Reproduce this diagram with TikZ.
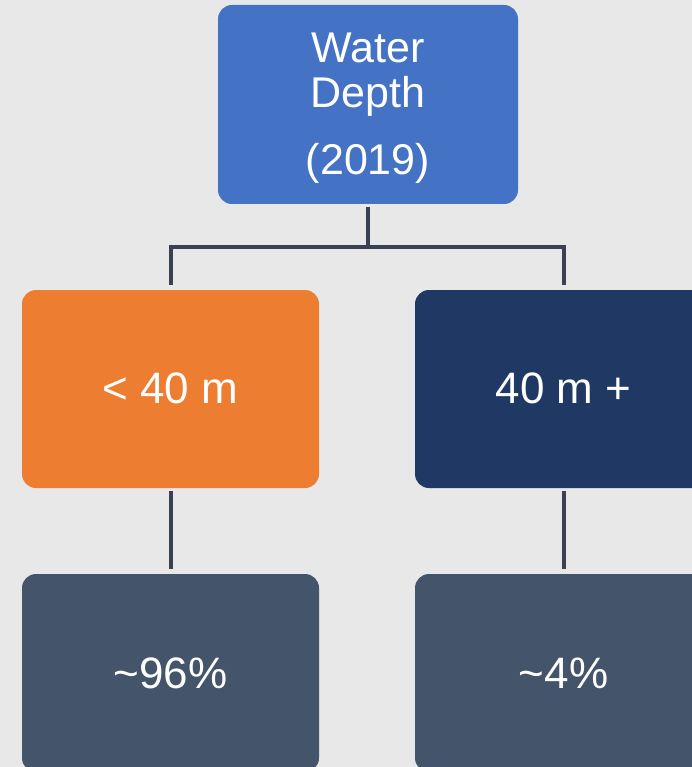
\documentclass[tikz,border=0pt]{standalone}
\usepackage{fontspec}
\setmainfont{Liberation Sans}
\definecolor{bgc}{HTML}{E8E8E8}
\definecolor{topc}{HTML}{4472C4}
\definecolor{orc}{HTML}{ED7D31}
\definecolor{navc}{HTML}{203864}
\definecolor{slc}{HTML}{44546A}
\definecolor{linec}{HTML}{3A4150}
\begin{document}
\begin{tikzpicture}[x=1pt,y=-1pt,
  box/.style={rounded corners=14pt, minimum width=297pt, minimum height=198pt,
    text=white, font=\fontsize{44}{45}\selectfont, align=center, inner sep=0pt},
  conn/.style={draw=linec, line width=4pt}]
\useasboundingbox (0,0) rectangle (692,767);
\fill[bgc] (0,0) rectangle (692,767);
\begin{scope}
\clip (0,0) rectangle (692,767);
% boxes
\node[box, fill=topc, minimum width=300pt, minimum height=199pt] (top) at (368,104.5) {};
\node[text=white, font=\fontsize{43}{45}\selectfont, align=center, inner sep=0pt]
  (toptext) at ([yshift=-4pt]top.center) {Water\\Depth\\[22pt](2019)};
\node[box, fill=orc] (lo) at (170.5,389) {\raisebox{1.5pt}{< 40 m}};
\node[box, fill=navc] (hi) at (563.5,389) {\raisebox{1.5pt}{40 m +}};
\node[box, fill=slc] (lop) at (170.5,673) {\textasciitilde 96\%};
\node[box, fill=slc] (hip) at (563.5,673) {\textasciitilde 4\%};
% connectors
\coordinate (bus) at (0,247);
\draw[conn] ([yshift=-3pt]top.south) -- (top.south |- bus);
\draw[conn] ([yshift=5pt]lo.north) -- (lo.north |- bus) -- (hi.north |- bus) -- ([yshift=5pt]hi.north);
\draw[conn] ([yshift=-3pt]lo.south) -- ([yshift=5pt]lop.north);
\draw[conn] ([yshift=-3pt]hi.south) -- ([yshift=5pt]hip.north);
\end{scope}
\end{tikzpicture}
\end{document}
